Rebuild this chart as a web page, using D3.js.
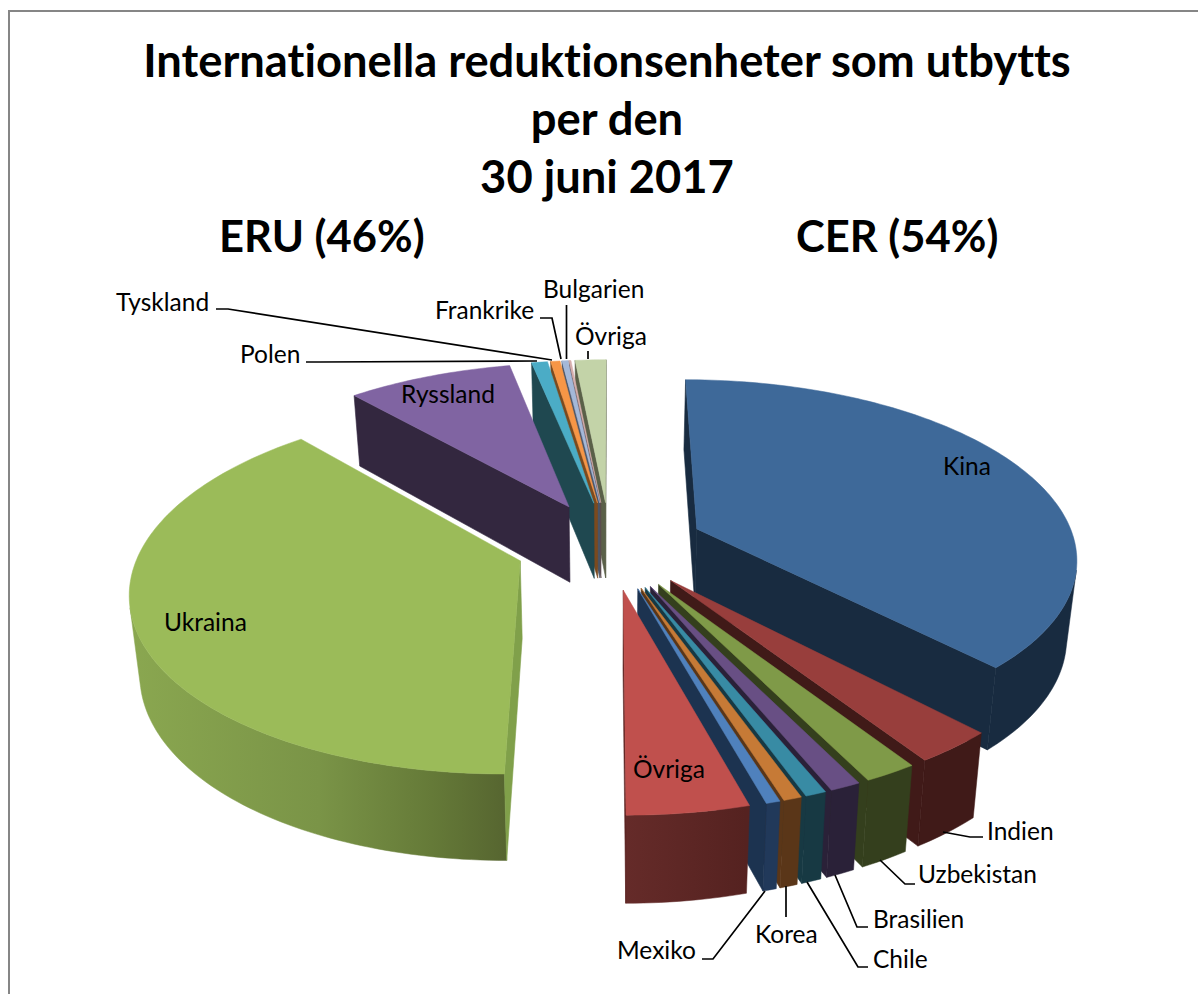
<!DOCTYPE html>
<html lang="sv">
<head>
<meta charset="UTF-8">
<title>Internationella reduktionsenheter</title>
<script src="https://d3js.org/d3.v7.min.js"></script>
<style>
html, body { margin: 0; padding: 0; background: #fff; }
svg { display: block; }
text { font-family: Lato, "Open Sans", sans-serif; fill: #000; font-variant-ligatures: none; }
.title { font-weight: 700; font-size: 45.3px; text-anchor: middle; }
.group { font-weight: 700; font-size: 43.5px; }
.label { font-size: 24.5px; }
</style>
</head>
<body>
<svg width="1198" height="994"></svg>
<script>
// percent of total, clockwise from 12 o'clock
var categories = ['Kina', 'Indien', 'Uzbekistan', 'Brasilien', 'Chile', 'Korea', 'Mexiko', 'Övriga',
                  'Ukraina', 'Ryssland', 'Polen', 'Tyskland', 'Frankrike', 'Bulgarien', 'Övriga ']
var values = [37.9, 2.9, 1.9, 1.1, 0.75, 0.65, 0.5, 4.3, 38.5, 8.3, 0.8, 0.47, 0.3, 0.1, 1.55]

var titleLines = ['Internationella reduktionsenheter som utbytts', 'per den', '30 juni 2017']
var groupLabels = ['ERU (46%)', 'CER (54%)']

// colours, same order as categories
var topColors = ['#3e6999', '#983e3c', '#7f9a48', '#684f84', '#388ba4', '#c67a36', '#4f81bd', '#c0504d',
                 '#9bbb59', '#8064a2', '#4bacc6', '#f79646', '#a4b8d8', '#d6aeac', '#c3d3a8']
var wallColors = ['#182b40', '#401a18', '#343f1d', '#2a2138', '#173943', '#5a3618', '#1c3350', '#5d2523',
                  '#80a04a', '#33273f', '#1f4850', '#7b4a1e', '#4a5568', '#5f4a4a', '#5a6048']
var outerColors = ['#182b40', '#401a18', '#343f1d', '#2a2138', '#173943', '#5a3618', '#21395a', 'url(#redWall)',
                   'url(#greenWall)', '#33273f', '#1f4850', '#7b4a1e', '#4a5568', '#5f4a4a', '#5a6048']

// label text placement and leader lines
var insideLabels = [['Kina', 943, 475], ['Övriga', 633, 778], ['Ukraina', 164, 631], ['Ryssland', 401, 403]]
var outsideLabels = [
  ['Tyskland', 116, 311, [[216, 309], [228, 309], [552, 360]]],
  ['Polen', 240, 363, [[306, 362], [320, 362], [537, 361]]],
  ['Frankrike', 435, 319, [[540, 318], [552, 318], [561, 359]]],
  ['Bulgarien', 543, 298, [[566.5, 305], [566.5, 359]]],
  ['Övriga', 575, 345, [[588, 351], [588, 359]]],
  ['Indien', 987, 840, [[943, 832], [970, 837], [983, 837]]],
  ['Uzbekistan', 918, 883, [[880, 860], [905, 884], [915, 884]]],
  ['Brasilien', 873, 928, [[835, 875], [857, 927], [868, 927]]],
  ['Chile', 873, 968, [[807, 882], [858, 967], [868, 967]]],
  ['Korea', 755, 943, [[786, 886], [786, 917]]],
  ['Mexiko', 617, 959, [[765, 891], [713, 959], [702, 959]]]
]

var cx = 610, cy = 545
var radius = 379, flatten = 176, persp = 0.15, explode = 0.25, wallH = 77, lean = 0.022

var svg = d3.select('svg')

// frame, only top and left are in the picture
svg.append('path').attr('d', 'M9,994V11H1198').attr('fill', 'none').attr('stroke', '#868686').attr('stroke-width', 2)

var defs = svg.append('defs')
function wallGradient(id, x1, x2, stops) {
  var g = defs.append('linearGradient').attr('id', id).attr('gradientUnits', 'userSpaceOnUse')
    .attr('x1', x1).attr('x2', x2).attr('y1', 0).attr('y2', 0)
  stops.forEach(function(s) { g.append('stop').attr('offset', s[0]).attr('stop-color', s[1]) })
}
wallGradient('greenWall', 130, 507, [[0, '#8aa750'], [0.5, '#7a9447'], [0.8, '#657a38'], [1, '#566530']])
wallGradient('redWall', 625, 746, [[0, '#652b29'], [1, '#552220']])

var xScale = d3.scaleLinear().domain([-1, 1]).range([-radius, radius])
var yScale = d3.scaleLinear().domain([-1, 1]).range([-flatten, flatten])

// plane point (X right, Y towards viewer, in pie radii) to screen, down = false top face, true bottom face
function project(X, Y, down) {
  var s = 1 / (1 - persp * Y)
  var sx = xScale(X) * s, sy = yScale(Y) * s
  if (down) {
    sx = sx * (1 - lean)
    sy = sy + wallH * Math.pow(s, 0.65)
  }
  return [cx + sx, cy + sy]
}

var pie = d3.pie().sort(null).startAngle(0).endAngle(2 * Math.PI)
var slices = pie(values).map(function(d, i) {
  var mid = (d.startAngle + d.endAngle) / 2
  return {
    i: i, a0: d.startAngle, a1: d.endAngle, mid: mid,
    ox: explode * Math.sin(mid), oy: -explode * Math.cos(mid)
  }
})

function rimPoints(d, down) {
  var n = Math.max(2, Math.ceil((d.a1 - d.a0) / 0.02))
  return d3.range(n + 1).map(function(k) {
    var a = d.a0 + (d.a1 - d.a0) * k / n
    return project(d.ox + Math.sin(a), d.oy - Math.cos(a), down)
  })
}

var line = d3.line().curve(d3.curveLinear)
function closed(points) { return line(points) + 'Z' }

// back to front
var order = slices.slice().sort(function(a, b) {
  return Math.cos(b.mid) - Math.cos(a.mid)
})

var gSlices = svg.append('g').selectAll('g').data(order).join('g')

gSlices.each(function(d) {
  var g = d3.select(this)
  var topRim = rimPoints(d, false), botRim = rimPoints(d, true)
  var last = topRim.length - 1
  var apexT = project(d.ox, d.oy, false), apexB = project(d.ox, d.oy, true)

  // outer wall, only the run of rim steps that face the viewer
  var facing = d3.range(last).filter(function(k) {
    return d3.polygonArea([topRim[k], topRim[k + 1], botRim[k + 1], botRim[k]]) > 0
  })
  if (facing.length) {
    var k0 = facing[0], k1 = facing[facing.length - 1] + 1
    var band = topRim.slice(k0, k1 + 1).concat(botRim.slice(k0, k1 + 1).reverse())
    g.append('path').attr('d', closed(band)).attr('fill', outerColors[d.i])
      .attr('stroke', outerColors[d.i]).attr('stroke-width', 0.5)
  }

  // radial walls, skip the ones turned away
  var startWall = [apexT, topRim[0], botRim[0], apexB]
  var endWall = [apexT, topRim[last], botRim[last], apexB]
  if (d3.polygonArea(startWall) > 0) {
    g.append('path').attr('d', closed(startWall)).attr('fill', wallColors[d.i])
      .attr('stroke', wallColors[d.i]).attr('stroke-width', 0.6)
  }
  if (d3.polygonArea(endWall) < 0) {
    g.append('path').attr('d', closed(endWall)).attr('fill', wallColors[d.i])
      .attr('stroke', wallColors[d.i]).attr('stroke-width', 0.6)
  }
  // top face
  g.append('path').attr('d', closed([apexT].concat(topRim))).attr('fill', topColors[d.i])
    .attr('stroke', topColors[d.i]).attr('stroke-width', 0.5)
})

// titles
svg.selectAll('.title').data(titleLines).join('text').attr('class', 'title')
  .attr('x', 607).attr('y', function(d, i) { return 77 + i * 58 }).text(function(d) { return d })
svg.append('text').attr('class', 'group').attr('x', 219).attr('y', 252).text(groupLabels[0])
svg.append('text').attr('class', 'group').attr('x', 796).attr('y', 252).text(groupLabels[1])

// leaders and labels
outsideLabels.forEach(function(l) {
  svg.append('path').attr('d', line(l[3])).attr('fill', 'none').attr('stroke', '#000').attr('stroke-width', 1.7)
  svg.append('text').attr('class', 'label').attr('x', l[1]).attr('y', l[2]).text(l[0])
})
insideLabels.forEach(function(l) {
  svg.append('text').attr('class', 'label').attr('x', l[1]).attr('y', l[2]).text(l[0])
})
</script>
</body>
</html>
